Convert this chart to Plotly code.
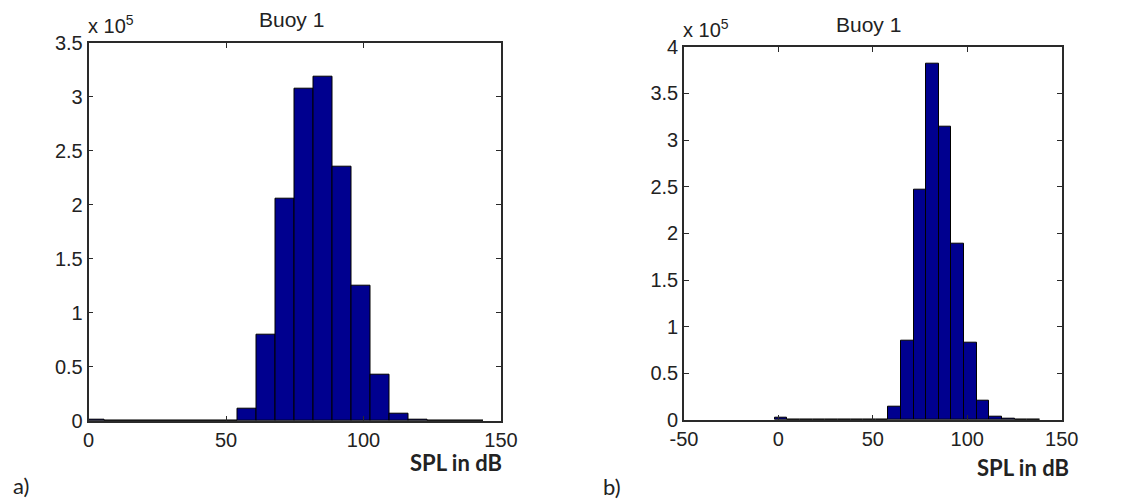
import plotly.graph_objects as go

# ---- data (counts in units of 1e5) ----
bin_width_a = 6.9
bin_centers_a = [2.35, 9.25, 16.15, 23.05, 29.95, 36.85, 43.75, 50.65, 57.55, 64.45,
                 71.35, 78.25, 85.15, 92.05, 98.95, 105.85, 112.75, 119.65, 126.55,
                 133.45, 140.35]
counts_a = [0.015, 0, 0, 0, 0, 0, 0, 0, 0.114, 0.80, 2.06, 3.07, 3.19, 2.35, 1.25,
            0.426, 0.068, 0.008, 0.006, 0.005, 0.004]

bin_width_b = 6.68
bin_centers_b = [1.44, 8.12, 14.8, 21.48, 28.16, 34.84, 41.52, 48.2, 54.88, 61.56,
                 68.24, 74.92, 81.6, 88.28, 94.96, 101.64, 108.32, 115.0, 121.68,
                 128.36, 135.04]
counts_b = [0.02, 0, 0, 0, 0, 0, 0, 0, 0, 0.143, 0.85, 2.47, 3.82, 3.14, 1.89, 0.83,
            0.205, 0.035, 0.01, 0.008, 0.006]

xticks_a = [0, 50, 100, 150]
yticks_a = [0, 0.5, 1, 1.5, 2, 2.5, 3, 3.5]
xticks_b = [-50, 0, 50, 100, 150]
yticks_b = [0, 0.5, 1, 1.5, 2, 2.5, 3, 3.5, 4]

title_text = "Buoy 1"
xlabel_text = "SPL in dB"
scale_text = "x 10<sup>5</sup>"

# page body has an 8px margin, so the figure is shifted by OFF px
OFF = 8
W, H = 1125 - OFF, 501 - OFF
BAR_COLOR = "#00008F"
AX_COLOR = "#2a2a2a"
TICK_FONT = dict(family="Liberation Sans, Arial, sans-serif", size=20, color="#222222")

fig = go.Figure()
fig.add_trace(go.Bar(x=bin_centers_a, y=counts_a, width=[bin_width_a] * len(counts_a),
                     marker=dict(color=BAR_COLOR, line=dict(color="black", width=1)),
                     xaxis="x", yaxis="y", showlegend=False, hoverinfo="skip"))
fig.add_trace(go.Bar(x=bin_centers_b, y=counts_b, width=[bin_width_b] * len(counts_b),
                     marker=dict(color=BAR_COLOR, line=dict(color="black", width=1)),
                     xaxis="x2", yaxis="y2", showlegend=False, hoverinfo="skip"))

# pixel domains (screen coords)
def xd(a, b):
    return [(a - OFF) / W, (b - OFF) / W]

def yd(top, bottom):
    return [1 - (bottom - OFF) / H, 1 - (top - OFF) / H]

axis_common = dict(showline=True, linecolor=AX_COLOR, linewidth=1.6, mirror="ticks",
                   ticks="inside", ticklen=5, tickcolor=AX_COLOR, tickwidth=1.2,
                   showgrid=False, zeroline=False, tickfont=TICK_FONT, fixedrange=True,
                   automargin=False)

fig.update_layout(
    template="none",
    width=W, height=H, margin=dict(l=0, r=0, t=0, b=0),
    paper_bgcolor="white", plot_bgcolor="white", bargap=0,
    xaxis=dict(domain=xd(88.5, 501), range=[0, 150], tickvals=xticks_a,
               ticktext=[str(v) for v in xticks_a], anchor="y", **axis_common),
    yaxis=dict(domain=yd(42.7, 421), range=[0, 3.5], tickvals=yticks_a,
               ticktext=[f"{v:g}" for v in yticks_a], anchor="x", **axis_common),
    xaxis2=dict(domain=xd(684, 1061.7), range=[-50, 150], tickvals=xticks_b,
                ticktext=[str(v) for v in xticks_b], anchor="y2", **axis_common),
    yaxis2=dict(domain=yd(46.7, 420), range=[0, 4], tickvals=yticks_b,
                ticktext=[f"{v:g}" for v in yticks_b], anchor="x2", **axis_common),
)

anns = []
def add_text(text, x, y, size, family, bold=False, xanchor="center", yanchor="middle"):
    anns.append(dict(text=(f"<b>{text}</b>" if bold else text), x=(x - OFF) / W,
                     y=1 - (y - OFF) / H, xref="paper", yref="paper", showarrow=False,
                     xanchor=xanchor, yanchor=yanchor,
                     font=dict(family=family, size=size, color="#222222")))

helv = "Liberation Sans, Arial, sans-serif"
cal = "Lato, Carlito, sans-serif"
add_text(title_text, 291, 20, 21, helv)
add_text(title_text, 868, 24, 21, helv)
add_text(scale_text, 86, 24, 20, helv, xanchor="left")
add_text(scale_text, 681, 28, 20, helv, xanchor="left")
add_text(xlabel_text, 504, 462, 22, cal, bold=True, xanchor="right")
add_text(xlabel_text, 1071, 467, 22, cal, bold=True, xanchor="right")
add_text("a)", 11, 485, 22, cal, xanchor="left")
add_text("b)", 601, 486, 22, cal, xanchor="left")
fig.update_layout(annotations=anns)

fig.write_html("out.html")
